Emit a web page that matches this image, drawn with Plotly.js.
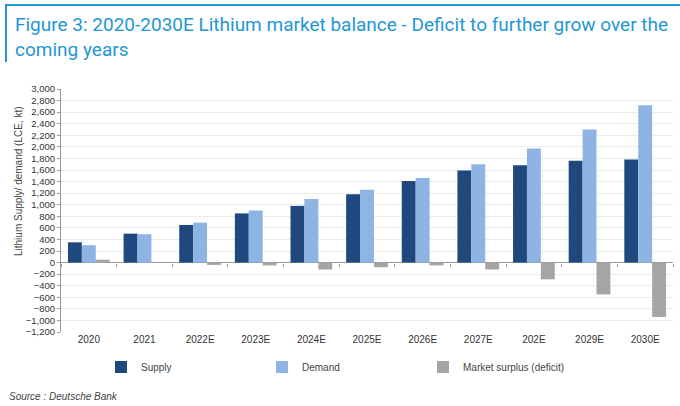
<!DOCTYPE html>
<html>
<head>
<meta charset="utf-8">
<script src="https://cdn.plot.ly/plotly-3.0.1.min.js"></script>
<style>html,body{margin:0;padding:0;background:#fff;}#chart{width:680px;height:406px;}</style>
</head>
<body>
<div id="chart"></div>
<script>
var categories = ["2020","2021","2022E","2023E","2024E","2025E","2026E","2027E","202E","2029E","2030E"];
var supply  = [350, 500, 650, 850, 980, 1180, 1410, 1590, 1680, 1760, 1780];
var demand  = [300, 490, 690, 900, 1100, 1260, 1460, 1700, 1970, 2300, 2720];
var surplus = [50, 0, -40, -50, -120, -80, -50, -120, -290, -550, -940];
var yTicks = [];
for (var v = -1200; v <= 3000; v += 200) yTicks.push(v);

var W = 680, H = 406;
var M = {l: 61, r: 7, t: 89, b: 74};
var pw = W - M.l - M.r, ph = H - M.t - M.b;
function px(x){ return (x - M.l) / pw; }
function py(y){ return (H - M.b - y) / ph; }
var yMin = -1200, yMax = 3000;
var zeroPos = (0 - yMin) / (yMax - yMin);

var traces = [
  {type:'bar', name:'Supply', x:categories, y:supply, marker:{color:'#1f497d'}, hoverinfo:'x+y'},
  {type:'bar', name:'Demand', x:categories, y:demand, marker:{color:'#8db4e2'}, hoverinfo:'x+y'},
  {type:'bar', name:'Market surplus (deficit)', x:categories, y:surplus, marker:{color:'#a5a5a5'}, hoverinfo:'x+y'},
  {type:'scatter', mode:'none', x:categories, y:surplus, xaxis:'x2', yaxis:'y', showlegend:false, hoverinfo:'skip'}
];

var blue = '#1f97d4';
var layout = {
  width: W, height: H,
  margin: M,
  paper_bgcolor:'#fff', plot_bgcolor:'#fff',
  font: {family:'Liberation Sans, Arial, sans-serif', size:10, color:'#333'},
  title: {text: ''},
  barmode:'group', bargap:0.25, bargroupgap:0,
  xaxis: {
    type:'category', range:[-0.5, 10.5], showgrid:false, showline:false, zeroline:false,
    ticks:'', tickfont:{size:10, color:'#333'}, fixedrange:true
  },
  xaxis2: {
    type:'category', overlaying:'x', anchor:'free', position: zeroPos, range:[-0.5, 10.5],
    showgrid:false, showline:false, zeroline:false, showticklabels:false,
    ticks:'outside', tickson:'boundaries', ticklen:3, tickcolor:'#999', tickwidth:1
  },
  yaxis: {
    range:[yMin, yMax], tickvals:yTicks, tickformat:',', showgrid:true, gridcolor:'#ebebeb', gridwidth:1,
    showline:true, linecolor:'#999', linewidth:1, ticks:'outside', ticklen:3, tickcolor:'#999',
    zeroline:true, zerolinecolor:'#999', zerolinewidth:1,
    tickfont:{size:9.5, color:'#333'}, fixedrange:true
  },
  showlegend:true,
  legend: {
    orientation:'h', xref:'container', yref:'container', x: 101/W, xanchor:'left', y: 1 - 367/H, yanchor:'middle',
    entrywidth:116, entrywidthmode:'pixels', itemwidth:30,
    font:{size:10, color:'#444'}, traceorder:'normal', bgcolor:'rgba(0,0,0,0)'
  },
  annotations: [
    {text:'Figure 3: 2020-2030E Lithium market balance - Deficit to further grow over the<br>coming years',
     xref:'paper', yref:'paper', x: px(13), y: py(11), xanchor:'left', yanchor:'top', align:'left',
     showarrow:false, font:{family:'Roboto, sans-serif', size:19, color: blue}},
    {text:'Lithium Supply/ demand (LCE, kt)', textangle:-90, xref:'paper', yref:'paper',
     x: px(18), y: py(181), xanchor:'center', yanchor:'middle', showarrow:false,
     font:{size:10, color:'#444'}},
    {text:'<i>Source : Deutsche Bank</i>', xref:'paper', yref:'paper', x: px(7), y: py(396),
     xanchor:'left', yanchor:'middle', showarrow:false, font:{size:10, color:'#444'}}
  ],
  shapes: [
    {type:'line', xref:'paper', yref:'paper', x0: px(5), x1: px(680), y0: py(5), y1: py(5), line:{color: blue, width:2}},
    {type:'line', xref:'paper', yref:'paper', x0: px(6), x1: px(6), y0: py(5), y1: py(62), line:{color: blue, width:2}}
  ]
};

Plotly.newPlot('chart', traces, layout, {displayModeBar:false, staticPlot:true});
</script>
</body>
</html>
